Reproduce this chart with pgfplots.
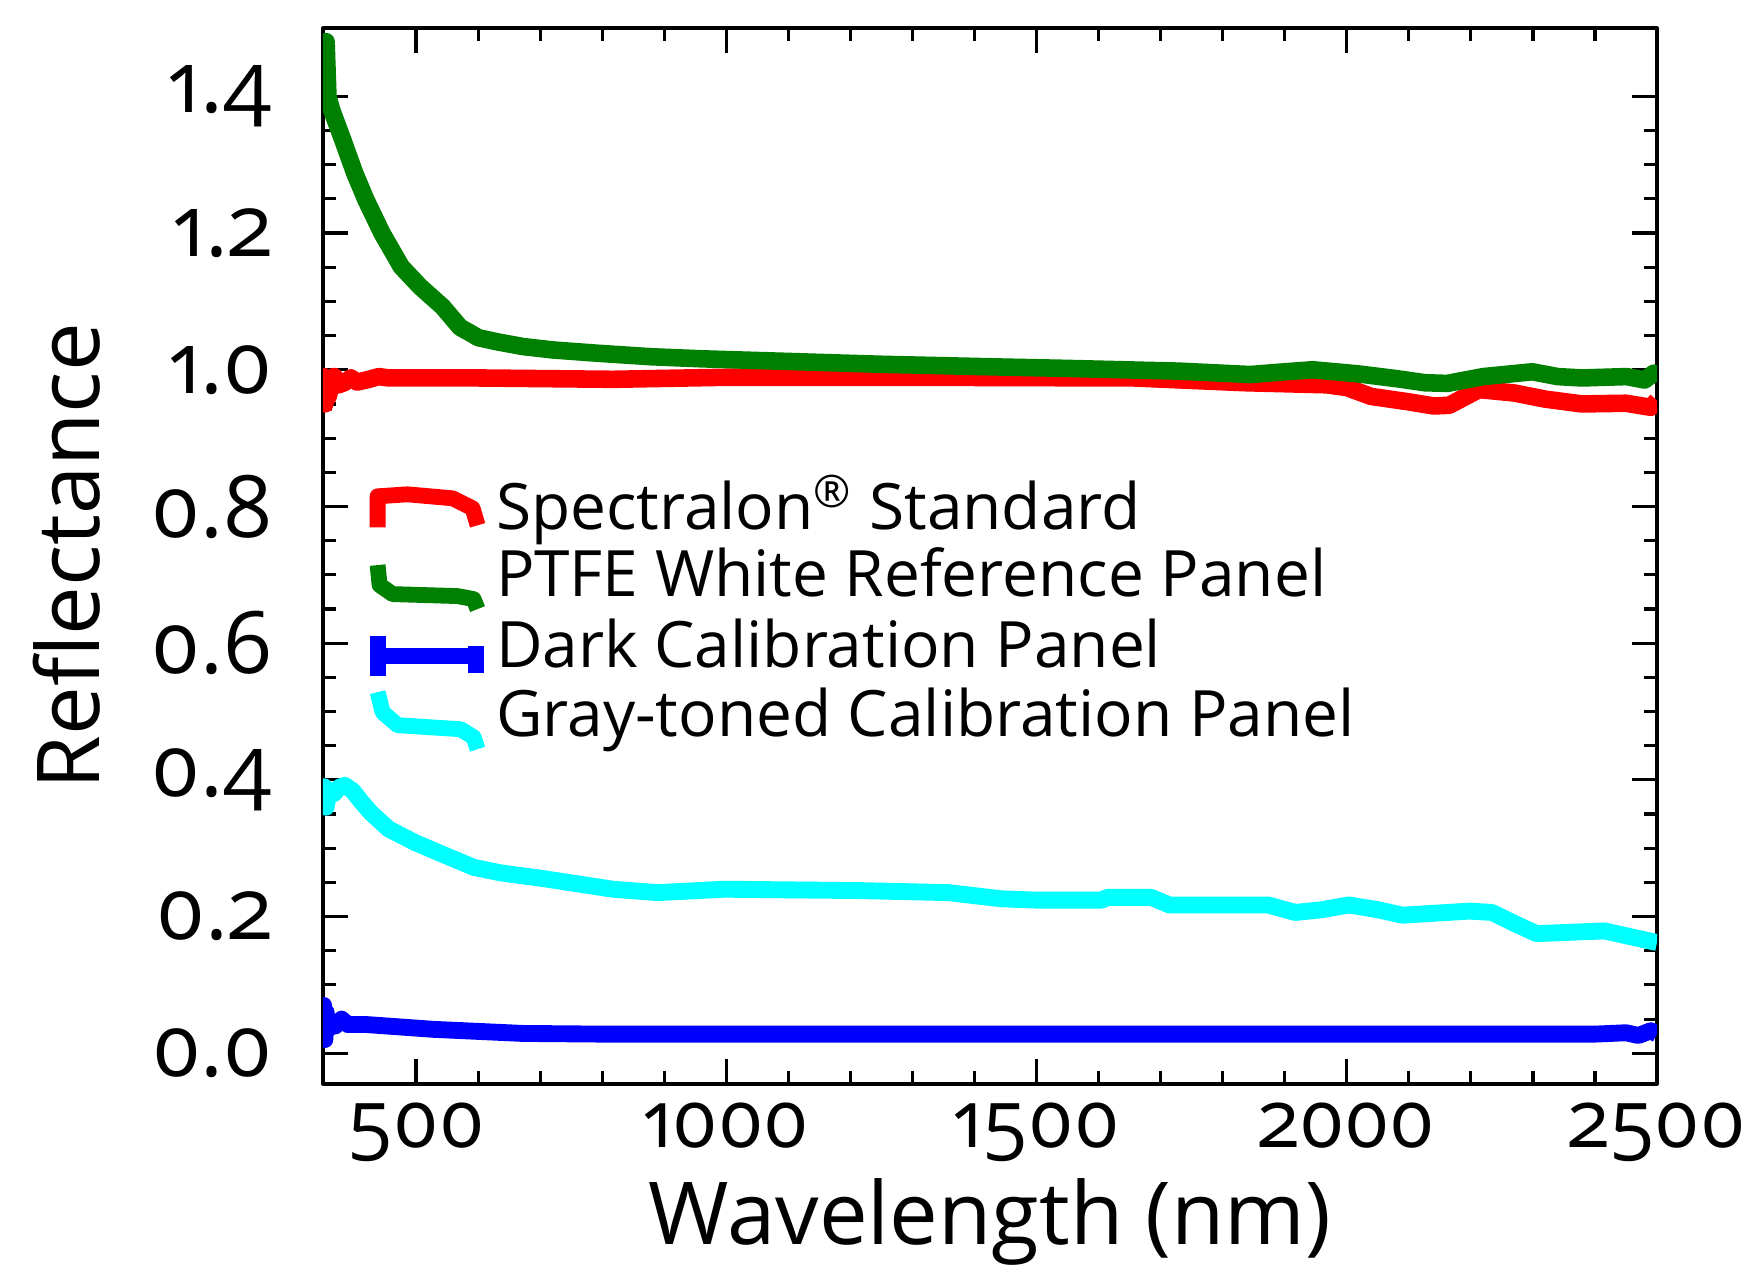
\documentclass[border=0pt]{standalone}
\usepackage{fontspec}
\setmainfont{Open Sans}[Numbers=OldStyle]
\usepackage{pgfplots}
\pgfplotsset{compat=1.18}
\definecolor{specred}{RGB}{255,0,0}
\definecolor{ptfegreen}{RGB}{0,128,0}
\definecolor{darkblue}{RGB}{0,0,255}
\definecolor{graycyan}{RGB}{0,255,255}

\begin{document}
\begin{tikzpicture}
\begin{axis}[
  name=ax,
  scale only axis,
  width=13.34cm, height=10.56cm,
  xmin=350, xmax=2500, ymin=-0.045, ymax=1.5,
  xtick={500,1000,1500,2000,2500},
  minor x tick num=4,
  ytick={0,0.2,0.4,0.6,0.8,1.0,1.2,1.4},
  minor y tick num=3,
  tick align=inside,
  major tick length=2.5mm, minor tick length=1.3mm,
  every tick/.style={black, line width=0.9pt},
  axis line style={line width=0.9pt},
  /pgf/number format/assume math mode=true,
  /pgf/number format/set thousands separator={},
  yticklabel style={/pgf/number format/fixed, /pgf/number format/fixed zerofill,
    /pgf/number format/precision=1, xshift=-3.8mm, font=\fontsize{24.5}{24.5}\selectfont},
  xticklabel style={font=\fontsize{22.8}{22.8}\selectfont, yshift=-0.6mm},
  label style={font=\fontsize{24.7}{24.7}\selectfont},
  xlabel={Wavelength (nm)}, ylabel={Reflectance},
  xlabel style={at={(axis description cs:0.5,-0.152)}, anchor=base},
  ylabel style={at={(axis description cs:-0.192,0.5)}, anchor=center},
  legend style={draw=none, fill=none, inner sep=0pt, outer sep=0pt,
    at={(axis description cs:0.035,0.573)}, anchor=north west,
    font=\fontsize{18.2}{18.2}\selectfont,
    nodes={text height=14pt, text depth=4pt, inner sep=0.5pt, inner xsep=3pt}, row sep=0pt},
  legend cell align=left,
  line join=round,
]
% Spectralon standard
\addplot[specred, line width=5pt,
  legend image code/.code={\draw[specred, line width=4.5pt, line join=round]
    (0mm,-1.5mm) -- (0mm,1.6mm) -- (3mm,1.8mm) -- (7.5mm,1.4mm) -- (9.5mm,0.4mm) -- (10mm,-1.3mm);}]
coordinates {
(350,0.94) (351,0.99) (353,0.95) (355,0.985) (358,0.96) (362,0.973) (368,0.99)
(375,0.978) (384,0.981) (395,0.988) (405,0.982) (420,0.985) (440,0.990)
(456,0.988) (600,0.988) (817,0.986) (1000,0.989) (1300,0.989) (1657,0.988)
(1837,0.981) (1967,0.978) (2000,0.974) (2039,0.961) (2100,0.953) (2140,0.947)
(2165,0.948) (2213,0.971) (2270,0.966) (2320,0.957) (2379,0.950) (2450,0.951)
(2490,0.945) (2500,0.955)
};
\addlegendentry{Spectralon\textsuperscript{®} Standard}
% PTFE white reference panel
\addplot[ptfegreen, line width=5pt,
  legend image code/.code={\draw[ptfegreen, line width=4.5pt, line join=round]
    (0mm,1.4mm) -- (0.2mm,-0.6mm) -- (1.5mm,-1.5mm) -- (8mm,-1.7mm) -- (9.6mm,-2mm) -- (10mm,-3mm);}]
coordinates {
(350,1.47) (352,1.42) (355,1.48) (358,1.40) (364,1.38) (382,1.336) (401,1.288)
(419,1.249) (445,1.200) (476,1.151) (506,1.122) (543,1.092) (571,1.062)
(587,1.054) (600,1.047) (630,1.041) (672,1.034) (720,1.029) (795,1.024)
(880,1.019) (961,1.016) (1106,1.012) (1250,1.008) (1443,1.004) (1548,1.002)
(1729,0.998) (1844,0.993) (1900,0.997) (1945,1.000) (2018,0.994) (2080,0.987)
(2126,0.981) (2162,0.980) (2220,0.990) (2299,0.997) (2340,0.990) (2379,0.988)
(2451,0.990) (2480,0.985) (2495,0.995) (2500,0.990)
};
\addlegendentry{PTFE White Reference Panel}
% dark calibration panel
\addplot[darkblue, line width=4.8pt,
  legend image code/.code={\draw[darkblue, line width=4.5pt]
    (0mm,1.4mm) -- (0mm,-2.6mm) (0mm,-0.6mm) -- (9.8mm,-0.6mm) (9.8mm,0.4mm) -- (9.8mm,-2.3mm);}]
coordinates {
(350,0.03) (351,0.07) (353,0.02) (355,0.06) (358,0.035) (362,0.047) (370,0.04)
(380,0.05) (390,0.042) (420,0.042) (528,0.035) (672,0.029) (800,0.028)
(2400,0.028) (2450,0.030) (2470,0.026) (2490,0.033) (2500,0.028)
};
\addlegendentry{Dark Calibration Panel}
% gray-toned calibration panel
\addplot[graycyan, line width=4.8pt,
  legend image code/.code={\draw[graycyan, line width=4.5pt, line join=round]
    (0mm,2.7mm) -- (0.5mm,0.7mm) -- (2mm,-0.6mm) -- (8.3mm,-1mm) -- (9.6mm,-1.8mm) -- (10mm,-3mm);}]
coordinates {
(350,0.35) (352,0.39) (355,0.36) (360,0.385) (368,0.38) (376,0.389) (385,0.392)
(398,0.384) (410,0.370) (427,0.352) (456,0.328) (499,0.308) (543,0.291)
(593,0.272) (636,0.264) (709,0.255) (817,0.240) (889,0.235) (997,0.240)
(1106,0.239) (1214,0.238) (1358,0.235) (1443,0.226) (1500,0.224) (1606,0.224)
(1613,0.228) (1685,0.228) (1714,0.217) (1873,0.217) (1917,0.206) (1960,0.210)
(2003,0.217) (2050,0.210) (2090,0.202) (2198,0.208) (2234,0.206) (2270,0.190)
(2306,0.175) (2415,0.179) (2460,0.170) (2500,0.162)
};
\addlegendentry{Gray-toned Calibration Panel}
\end{axis}
\path ([shift={(-3.23cm,-2.02cm)}]ax.south west) rectangle ([shift={(1.01cm,0.28cm)}]ax.north east);
\end{tikzpicture}
\end{document}
